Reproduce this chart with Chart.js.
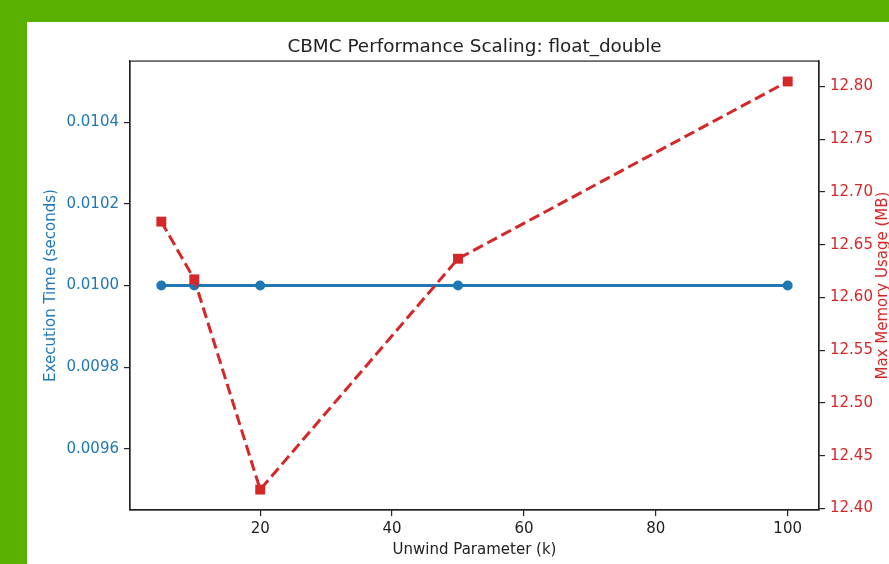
<!DOCTYPE html>
<html>
<head>
<meta charset="utf-8">
<script src="https://cdn.jsdelivr.net/npm/chart.js@4"></script>
<style>
  html, body { margin:0; padding:0; width:889px; height:564px; overflow:hidden; background:#59b000; }
  #wrap { position:absolute; left:27px; top:22px; width:862px; height:542px; background:#ffffff; }
  canvas { display:block; }
</style>
</head>
<body>
<div id="wrap"><canvas id="c" width="862" height="542"></canvas></div>
<script>
// ---- data ----
const unwindK = [5, 10, 20, 50, 100];
const execTime = [0.0100, 0.0100, 0.0100, 0.0100, 0.0100];
const maxMemory = [12.671875, 12.6171875, 12.41796875, 12.63671875, 12.8046875];
const xTicks = [20, 40, 60, 80, 100];
const timeTicks = [0.0096, 0.0098, 0.0100, 0.0102, 0.0104];
const memTicks = [12.40, 12.45, 12.50, 12.55, 12.60, 12.65, 12.70, 12.75, 12.80];

const titleText = 'CBMC Performance Scaling: float_double';
const xLabel = 'Unwind Parameter (k)';
const yLabel = 'Execution Time (seconds)';
const y1Label = 'Max Memory Usage (MB)';

const BLUE = '#1f77b4';
const RED = '#d62728';
const FONT = "'DejaVu Sans', 'Liberation Sans', sans-serif";

// matplotlib-style 5% margins
const xMinD = Math.min(...unwindK), xMaxD = Math.max(...unwindK);
const xPad = (xMaxD - xMinD) * 0.05;
const memMinD = Math.min(...maxMemory), memMaxD = Math.max(...maxMemory);
const memPad = (memMaxD - memMinD) * 0.05;
// constant series: matplotlib expands to +/-5%, then 5% margin
const tC = execTime[0];
const tLo = tC * 0.95, tHi = tC * 1.05, tPad = (tHi - tLo) * 0.05;

const frame = {
  id: 'frame',
  afterDatasetsDraw(chart) {
    const {ctx, chartArea: a} = chart;
    ctx.save();
    ctx.strokeStyle = '#222';
    ctx.lineWidth = 1.2;
    ctx.strokeRect(a.left, a.top, a.right - a.left, a.bottom - a.top);
    ctx.restore();
  },
  afterDraw(chart) {
    const {ctx, chartArea: a} = chart;
    ctx.save();
    ctx.fillStyle = RED;
    ctx.font = '15px ' + FONT;
    ctx.textAlign = 'center';
    ctx.textBaseline = 'middle';
    ctx.translate(856, (a.top + a.bottom) / 2);
    ctx.rotate(-Math.PI / 2);
    ctx.fillText(y1Label, 0, 0);
    ctx.restore();
  }
};

new Chart(document.getElementById('c'), {
  type: 'line',
  data: {
    datasets: [
      {
        label: 'Max Memory',
        data: unwindK.map((k, i) => ({x: k, y: maxMemory[i]})),
        yAxisID: 'y1',
        borderColor: RED,
        backgroundColor: RED,
        borderWidth: 3,
        borderDash: [11, 5],
        pointStyle: 'rect',
        pointRadius: 7,
        pointBorderWidth: 0,
        tension: 0,
        fill: false,
        order: 0
      },
      {
        label: 'Execution Time',
        data: unwindK.map((k, i) => ({x: k, y: execTime[i]})),
        yAxisID: 'y',
        borderColor: BLUE,
        backgroundColor: BLUE,
        borderWidth: 3,
        pointStyle: 'circle',
        pointRadius: 5,
        pointBorderWidth: 0,
        tension: 0,
        fill: false,
        order: 1
      }
    ]
  },
  options: {
    responsive: false,
    devicePixelRatio: 1,
    animation: false,
    layout: { padding: { left: 0, right: 0, top: 0, bottom: 0 } },
    plugins: {
      legend: { display: false },
      tooltip: { enabled: false },
      title: {
        display: true,
        fullSize: false,
        text: titleText,
        color: '#222',
        font: { family: FONT, size: 18.4, weight: 'normal' },
        padding: { top: 14, bottom: 3 }
      }
    },
    scales: {
      x: {
        type: 'linear',
        position: 'bottom',
        min: xMinD - xPad,
        max: xMaxD + xPad,
        afterBuildTicks: (s) => { s.ticks = xTicks.map(v => ({value: v})); },
        afterFit: (s) => { s.height = 54; },
        grid: { drawOnChartArea: false, drawTicks: true, tickLength: 6, color: '#222', lineWidth: 1.2 },
        border: { display: true, color: '#222', width: 1.2 },
        ticks: { color: '#222', font: { family: FONT, size: 15 }, padding: 4, maxRotation: 0,
                 callback: (v) => String(v) },
        title: { display: true, text: xLabel, color: '#222', font: { family: FONT, size: 15 },
                 padding: { top: 0, bottom: 5 } }
      },
      y: {
        type: 'linear',
        position: 'left',
        min: tLo - tPad,
        max: tHi + tPad,
        afterBuildTicks: (s) => { s.ticks = timeTicks.map(v => ({value: v})); },
        afterFit: (s) => { s.width = 103; },
        grid: { drawOnChartArea: false, drawTicks: true, tickLength: 6, color: '#222', lineWidth: 1.2 },
        border: { display: true, color: '#222', width: 1.2 },
        ticks: { color: BLUE, font: { family: FONT, size: 15 }, padding: 5,
                 callback: (v) => Number(v).toFixed(4) },
        title: { display: true, text: yLabel, color: BLUE, font: { family: FONT, size: 15 },
                 padding: { top: 15, bottom: 0 } }
      },
      y1: {
        type: 'linear',
        position: 'right',
        min: memMinD - memPad,
        max: memMaxD + memPad,
        afterBuildTicks: (s) => { s.ticks = memTicks.map(v => ({value: v})); },
        afterFit: (s) => { s.width = 70; },
        grid: { drawOnChartArea: false, drawTicks: true, tickLength: 6, color: '#222', lineWidth: 1.2 },
        border: { display: true, color: '#222', width: 1.2 },
        ticks: { color: RED, font: { family: FONT, size: 15 }, padding: 5,
                 callback: (v) => Number(v).toFixed(2) },
        title: { display: false }
      }
    }
  },
  plugins: [frame]
});
</script>
</body>
</html>
